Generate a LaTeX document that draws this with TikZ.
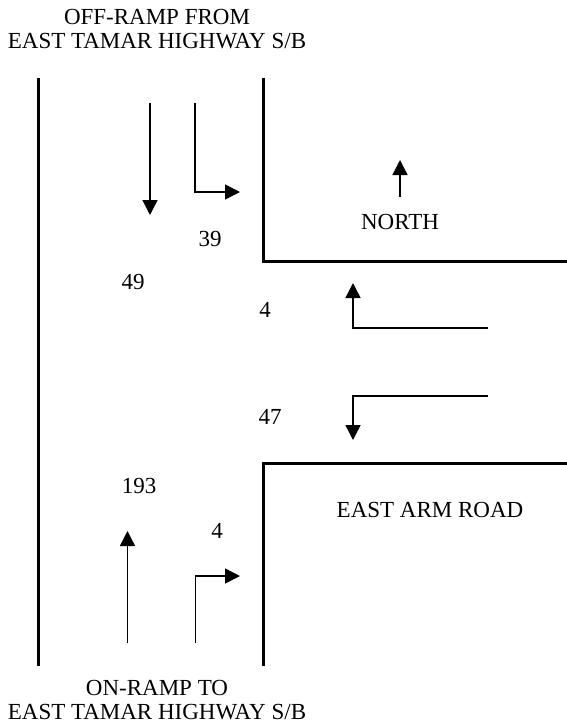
\documentclass[tikz,border=0pt]{standalone}
\usepackage{fontspec}
\setmainfont{Liberation Serif}
\usetikzlibrary{arrows.meta}
\begin{document}
\begin{tikzpicture}[x=1pt,y=-1pt,
  road/.style={line width=3pt},
  flow/.style={line width=1.4pt,-{Triangle[length=15pt,width=15pt]}},
  lbl/.style={font=\fontsize{23}{24}\selectfont,inner sep=0pt,align=center}]
\useasboundingbox (0,0) rectangle (567,728);
% roads
\draw[road] (38,78) -- (38,666);
\draw[road] (263,78) -- (263,261) -- (567,261);
\draw[road] (567,463) -- (263,463) -- (263,666);
% coordinates
\coordinate (a1s) at (150,103); \coordinate (a1e) at (150,215);
\coordinate (a2s) at (195,103); \coordinate (a2c) at (195,192); \coordinate (a2e) at (240,192);
\coordinate (ns) at (400,197); \coordinate (ne) at (400,160);
\coordinate (a3s) at (488,328); \coordinate (a3c) at (353,328); \coordinate (a3e) at (353,283);
\coordinate (a4s) at (488,396); \coordinate (a4c) at (353,396); \coordinate (a4e) at (353,440);
\coordinate (a5s) at (127.5,643); \coordinate (a5e) at (127.5,531);
\coordinate (a6s) at (195.5,643); \coordinate (a6c) at (195.5,576); \coordinate (a6e) at (240,576);
% arrows
\draw[flow] (a1s) -- (a1e);
\draw[flow] (a2s) -- (a2c) -- (a2e);
\draw[flow] (ns) -- (ne);
\draw[flow] (a3s) -- (a3c) -- (a3e);
\draw[flow] (a4s) -- (a4c) -- (a4e);
\draw[flow] (a5s) -- (a5e);
\draw[flow] (a6s) -- (a6c) -- (a6e);
% labels
\node[lbl] (top) at (157,29) {OFF-RAMP FROM\\EAST TAMAR HIGHWAY S/B};
\node[lbl] (bot) at (157,700) {ON-RAMP TO\\EAST TAMAR HIGHWAY S/B};
\node[lbl] (north) at (400,222) {NORTH};
\node[lbl] (n39) at (210,239) {39};
\node[lbl] (n49) at (133,282) {49};
\node[lbl] (n4a) at (265,310) {4};
\node[lbl] (n47) at (270,417) {47};
\node[lbl] (n193) at (139,486) {193};
\node[lbl] (ear) at (430,510) {EAST ARM ROAD};
\node[lbl] (n4b) at (217,531) {4};
\end{tikzpicture}
\end{document}
